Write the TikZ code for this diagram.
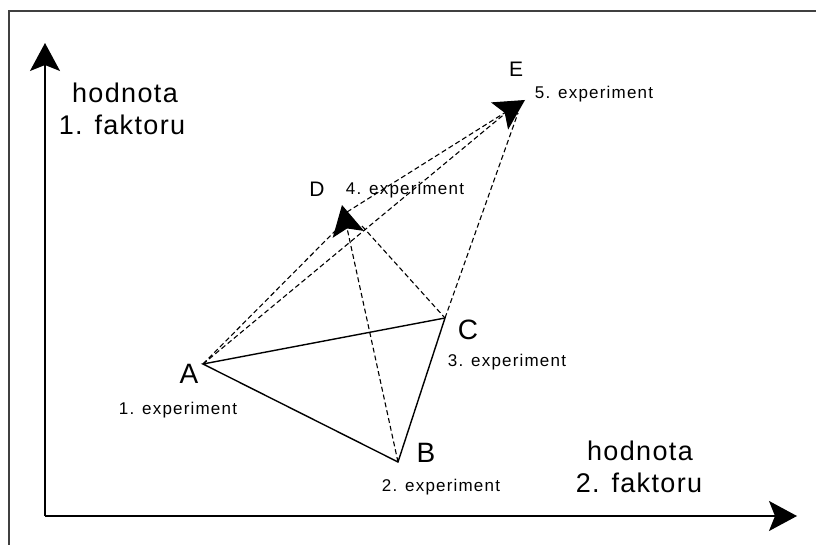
\documentclass[tikz,border=0pt]{standalone}
\usepackage{fontspec}
\setmainfont{Liberation Sans}
\usetikzlibrary{arrows.meta}
\begin{document}
\begin{tikzpicture}[x=1pt,y=-1pt,
  axislabel/.style={font=\fontsize{27}{32}\selectfont\addfontfeatures{LetterSpace=5}, inner sep=0pt, anchor=base},
  ptbig/.style={font=\fontsize{28}{30}\selectfont, inner sep=0pt, anchor=base},
  ptsmall/.style={font=\fontsize{21}{23}\selectfont, inner sep=0pt, anchor=base},
  explabel/.style={font=\fontsize{17}{20}\selectfont\addfontfeatures{LetterSpace=7}, inner sep=0pt, anchor=base},
  dashline/.style={dash pattern=on 5pt off 3pt, line width=1.1pt},
  solidline/.style={line width=1.4pt},
  axisline/.style={line width=1.5pt},
  bigtip/.style={-{Stealth[length=28pt,width=30pt,inset=6pt]}},
  ptip/.style={-{Stealth[length=30pt,width=32pt,inset=6pt]}}
]
\useasboundingbox (0,0) rectangle (816,545);
% frame
\draw[line width=1.6pt, black!75] (9,545) -- (9,11) -- (816,11);
% axes
\coordinate (O) at (45,516);
\coordinate (Ytop) at (45,43);
\coordinate (Xend) at (797,516);
\draw[axisline,bigtip] (O) -- (Ytop);
\draw[axisline,bigtip] (O) -- (Xend);
% points
\coordinate (A) at (203,364);
\coordinate (B) at (398,462);
\coordinate (C) at (445,318);
\coordinate (D) at (342,205);
\coordinate (Dc) at (344,222);
\coordinate (Dt) at (347,212);
\coordinate (Dr) at (362,226);
\coordinate (E) at (525,100);
\coordinate (Ea) at (513,107);
\coordinate (Ec) at (518,113);
% solid triangle
\draw[solidline] (A) -- (B) -- (C) -- cycle;
% dashed
\draw[dashline] (A) -- (Dc);
\draw[dashline] (A) -- (Ea);
\draw[dashline] (Dr) -- (C);
\draw[dashline] (C) -- (Ec);
\draw[dashline,ptip] (B) -- (D);
\draw[dashline,ptip] (Dt) -- (E);
% labels
\node[axislabel] (h1) at (125,103) {hodnota};
\node[axislabel] (f1) at (122,135) {1. faktoru};
\node[axislabel] (h2) at (640,460) {hodnota};
\node[axislabel] (f2) at (639,492) {2. faktoru};
\node[ptbig] (lA) at (189,383) {A};
\node[ptbig] (lB) at (426,462) {B};
\node[ptbig] (lC) at (468,339) {C};
\node[ptsmall] (lD) at (317,197) {D};
\node[ptsmall] (lE) at (516,77) {E};
\node[explabel] (eA) at (178,414) {1. experiment};
\node[explabel] (eB) at (441,491) {2. experiment};
\node[explabel] (eC) at (507,366) {3. experiment};
\node[explabel] (eD) at (405,195) {4. experiment};
\node[explabel] (eE) at (594,99) {5. experiment};
\end{tikzpicture}
\end{document}
